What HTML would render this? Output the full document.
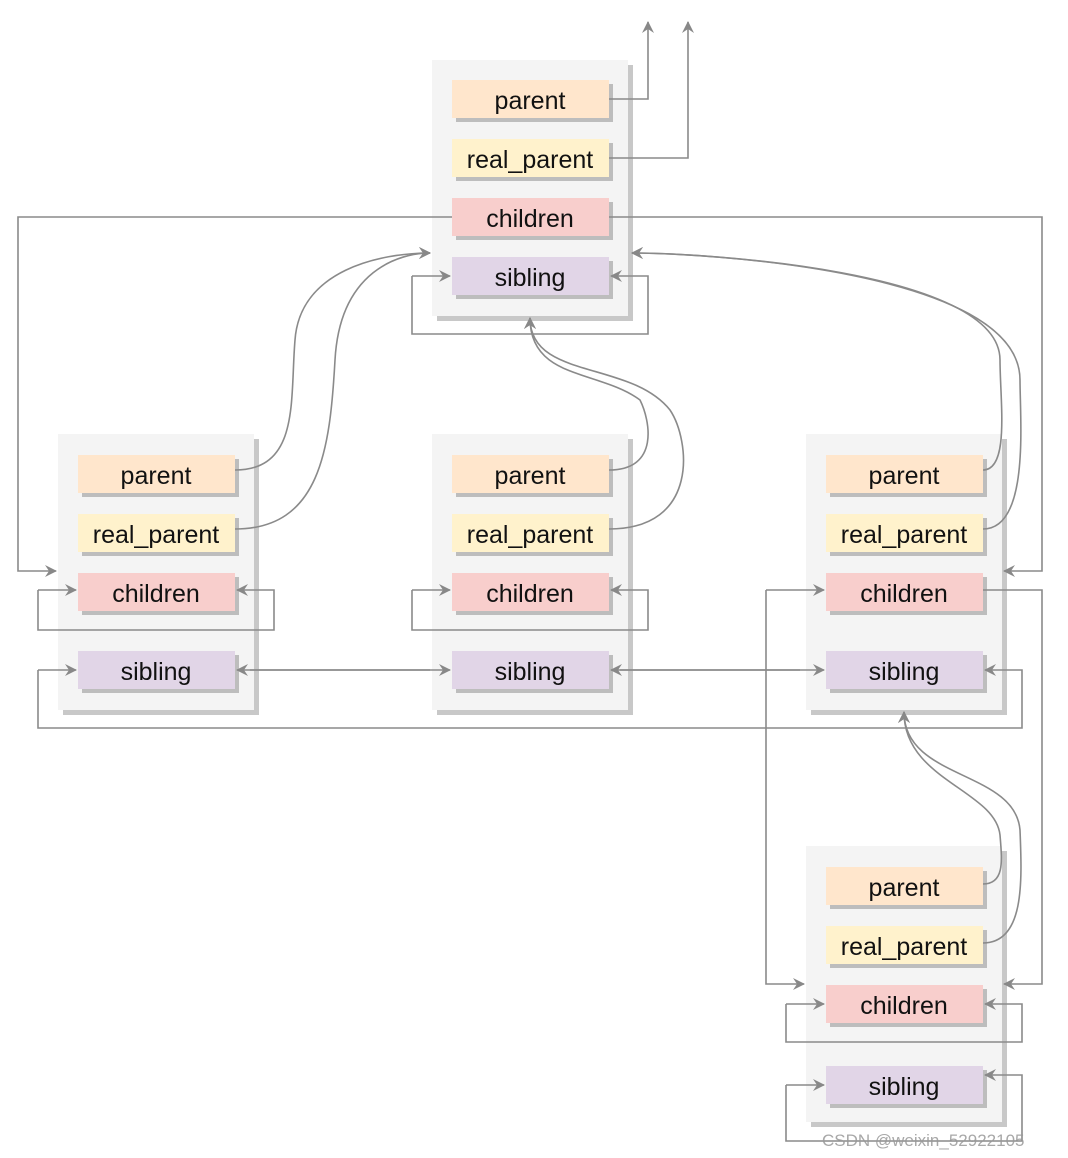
<!DOCTYPE html>
<html><head><meta charset="utf-8"><style>
html,body{margin:0;padding:0;background:#fff;}
svg{display:block;font-family:"Liberation Sans",sans-serif;}
</style></head><body>
<svg width="1068" height="1158" viewBox="0 0 1068 1158" xmlns="http://www.w3.org/2000/svg">
<defs>
<marker id="a" viewBox="0 0 12 12" refX="11" refY="6" markerWidth="12" markerHeight="12" markerUnits="userSpaceOnUse" orient="auto">
<path d="M0,0 L12,6 L0,12 L4,6 Z" fill="#888"/>
</marker>
</defs>
<g id="boxes">
<!-- containers -->
<g fill="#c8c8c8"><rect x="437" y="65" width="196" height="256"/><rect x="63" y="439" width="196" height="276"/><rect x="437" y="439" width="196" height="276"/><rect x="811" y="439" width="196" height="276"/><rect x="811" y="851" width="196" height="276"/></g>
<g fill="#f4f4f4"><rect x="432" y="60" width="196" height="256"/><rect x="58" y="434" width="196" height="276"/><rect x="432" y="434" width="196" height="276"/><rect x="806" y="434" width="196" height="276"/><rect x="806" y="846" width="196" height="276"/></g>
</g>
<g font-size="25" text-anchor="middle" fill="#111">
<!-- field helper: shadow then field -->
<g fill="#bdbdbd">
<rect x="456" y="84" width="157" height="38"/><rect x="456" y="143" width="157" height="38"/><rect x="456" y="202" width="157" height="38"/><rect x="456" y="261" width="157" height="38"/>
<rect x="82" y="459" width="157" height="38"/><rect x="82" y="518" width="157" height="38"/><rect x="82" y="577" width="157" height="38"/><rect x="82" y="655" width="157" height="38"/>
<rect x="456" y="459" width="157" height="38"/><rect x="456" y="518" width="157" height="38"/><rect x="456" y="577" width="157" height="38"/><rect x="456" y="655" width="157" height="38"/>
<rect x="830" y="459" width="157" height="38"/><rect x="830" y="518" width="157" height="38"/><rect x="830" y="577" width="157" height="38"/><rect x="830" y="655" width="157" height="38"/>
<rect x="830" y="871" width="157" height="38"/><rect x="830" y="930" width="157" height="38"/><rect x="830" y="989" width="157" height="38"/><rect x="830" y="1070" width="157" height="38"/>
</g>
<g fill="#ffe6cc"><rect x="452" y="80" width="157" height="38"/><rect x="78" y="455" width="157" height="38"/><rect x="452" y="455" width="157" height="38"/><rect x="826" y="455" width="157" height="38"/><rect x="826" y="867" width="157" height="38"/></g>
<g fill="#fff2cc"><rect x="452" y="139" width="157" height="38"/><rect x="78" y="514" width="157" height="38"/><rect x="452" y="514" width="157" height="38"/><rect x="826" y="514" width="157" height="38"/><rect x="826" y="926" width="157" height="38"/></g>
<g fill="#f8cecc"><rect x="452" y="198" width="157" height="38"/><rect x="78" y="573" width="157" height="38"/><rect x="452" y="573" width="157" height="38"/><rect x="826" y="573" width="157" height="38"/><rect x="826" y="985" width="157" height="38"/></g>
<g fill="#e1d5e7"><rect x="452" y="257" width="157" height="38"/><rect x="78" y="651" width="157" height="38"/><rect x="452" y="651" width="157" height="38"/><rect x="826" y="651" width="157" height="38"/><rect x="826" y="1066" width="157" height="38"/></g>
<text x="530" y="109">parent</text><text x="530" y="168">real_parent</text><text x="530" y="227">children</text><text x="530" y="286">sibling</text>
<text x="156" y="484">parent</text><text x="156" y="543">real_parent</text><text x="156" y="602">children</text><text x="156" y="680">sibling</text>
<text x="530" y="484">parent</text><text x="530" y="543">real_parent</text><text x="530" y="602">children</text><text x="530" y="680">sibling</text>
<text x="904" y="484">parent</text><text x="904" y="543">real_parent</text><text x="904" y="602">children</text><text x="904" y="680">sibling</text>
<text x="904" y="896">parent</text><text x="904" y="955">real_parent</text><text x="904" y="1014">children</text><text x="904" y="1095">sibling</text>
</g>
<g fill="none" stroke="#8a8a8a" stroke-width="1.6">
<path d="M609,99 H648 V22" marker-end="url(#a)"/>
<path d="M609,158 H688 V22" marker-end="url(#a)"/>
<path d="M452,217 H18 V571 H56" marker-end="url(#a)"/>
<path d="M609,217 H1042 V571 H1004" marker-end="url(#a)"/>
<path d="M412,276 H450" marker-end="url(#a)"/>
<path d="M412,276 V334 H648 V276 H611" marker-end="url(#a)"/>
<path d="M235,470 C300,470 290,400 295,340 C300,270 380,253 430,253" marker-end="url(#a)"/>
<path d="M235,529 C320,529 330,450 335,360 C340,270 400,253 430,253" marker-end="url(#a)"/>
<path d="M609,470 C660,470 650,420 640,400 C600,370 530,380 530,318" marker-end="url(#a)"/>
<path d="M609,529 C700,529 690,440 670,410 C630,360 530,380 530,318" marker-end="url(#a)"/>
<path d="M983,470 C1010,470 1000,400 1000,360 C1000,270 700,253 632,253" marker-end="url(#a)"/>
<path d="M983,529 C1030,529 1020,420 1020,380 C1020,270 700,253 632,253" marker-end="url(#a)"/>
<path d="M38,590 H76" marker-end="url(#a)"/><path d="M38,590 V630 H274 V590 H237" marker-end="url(#a)"/>
<path d="M412,590 H450" marker-end="url(#a)"/><path d="M412,590 V630 H648 V590 H611" marker-end="url(#a)"/>
<path d="M766,590 H824" marker-end="url(#a)"/><path d="M766,590 V984 H804" marker-end="url(#a)"/>
<path d="M983,590 H1042 V984 H1004" marker-end="url(#a)"/>
<path d="M250,670 H450" marker-end="url(#a)"/><path d="M430,670 H237" marker-end="url(#a)"/>
<path d="M620,670 H824" marker-end="url(#a)"/><path d="M800,670 H611" marker-end="url(#a)"/>
<path d="M38,670 H76" marker-end="url(#a)"/><path d="M38,670 V728 H1022 V670 H985" marker-end="url(#a)"/>
<path d="M983,884 C1005,884 1002,860 1000,835 C995,790 904,780 904,712" marker-end="url(#a)"/>
<path d="M983,943 C1025,943 1022,880 1020,830 C1015,770 904,780 904,712" marker-end="url(#a)"/>
<path d="M786,1004 H824" marker-end="url(#a)"/><path d="M786,1004 V1042 H1022 V1004 H985" marker-end="url(#a)"/>
<path d="M786,1085 H824" marker-end="url(#a)"/><path d="M786,1085 V1141 H1022 V1075 H985" marker-end="url(#a)"/>
</g>
<text x="822" y="1146" font-size="17" fill="#999" fill-opacity="0.85">CSDN @weixin_52922105</text>
</svg>
</body></html>
